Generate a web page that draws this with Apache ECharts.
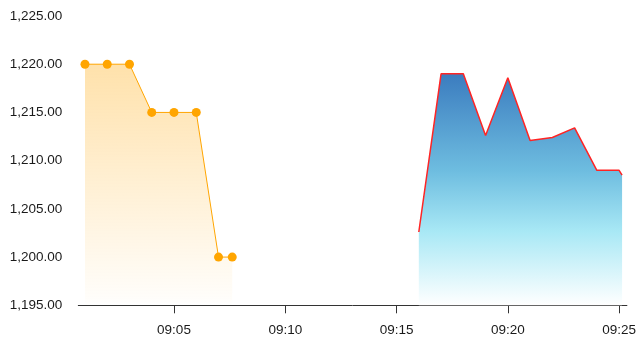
<!DOCTYPE html>
<html>
<head>
<meta charset="utf-8">
<script src="https://cdn.jsdelivr.net/npm/echarts@6/dist/echarts.min.js"></script>
<style>
html,body{margin:0;padding:0;background:#fff;}
#c{width:639px;height:350px;}
</style>
</head>
<body>
<div id="c"></div>
<script>
// ---- data ----
var orangeTimes = ['09:01:00','09:02:00','09:03:00','09:04:00','09:05:00','09:06:00','09:07:00','09:07:37'];
var orangeValues = [1220, 1220, 1220, 1215, 1215, 1215, 1200, 1200];
var blueTimes = ['09:16:00','09:17:00','09:18:00','09:19:00','09:20:00','09:21:00','09:22:00','09:23:00','09:24:00','09:25:00','09:25:08'];
var blueValues = [1202.6, 1219.0, 1219.0, 1212.6, 1218.6, 1212.1, 1212.4, 1213.4, 1209.0, 1209.0, 1208.5];
var xTickLabels = ['09:05','09:10','09:15','09:20','09:25'];
var xRange = ['09:00:42','09:25:21'];
var yMin = 1195, yMax = 1225, yStep = 5;

// minutes since 09:00
function toMin(s){
  var p = s.split(':').map(Number);
  return (p[0]*60 + p[1] + (p[2]||0)/60) - 540;
}
var tickVals = xTickLabels.map(toMin);
function labelFor(v){
  for (var i=0;i<tickVals.length;i++){ if (Math.abs(tickVals[i]-v) < 1e-6) return xTickLabels[i]; }
  return '';
}

var font = 'Liberation Sans, Arial, sans-serif';
var chart = echarts.init(document.getElementById('c'));
chart.setOption({
  animation: false,
  grid: {left: 78.3, right: 9.7, top: 16, bottom: 44.7, containLabel: false},
  xAxis: {
    type: 'value',
    min: toMin(xRange[0]),
    max: toMin(xRange[1]),
    axisLine: {show: true, lineStyle: {color: '#333', width: 1}},
    axisTick: {show: true, length: 8, customValues: tickVals, lineStyle: {color: '#333'}},
    axisLabel: {
      customValues: tickVals,
      margin: 18,
      color: '#1a1a1a',
      fontSize: 13.5,
      fontFamily: font,
      formatter: function(v){ return labelFor(v); }
    },
    splitLine: {show: false}
  },
  yAxis: {
    type: 'value',
    min: yMin, max: yMax, interval: yStep,
    axisLine: {show: false},
    axisTick: {show: false},
    splitLine: {show: false},
    axisLabel: {
      margin: 16,
      padding: [3, 0, 0, 0],
      color: '#1a1a1a',
      fontSize: 13.5,
      fontFamily: font,
      formatter: function(v){
        return v.toLocaleString('en-US',{minimumFractionDigits:2, maximumFractionDigits:2});
      }
    }
  },
  series: [
    {
      type: 'line',
      data: orangeTimes.map(function(t,i){ return [toMin(t), orangeValues[i]]; }),
      symbol: 'circle',
      symbolSize: 9,
      showSymbol: true,
      itemStyle: {color: '#ffa500'},
      lineStyle: {color: '#ffa500', width: 1},
      areaStyle: {
        opacity: 1,
        color: new echarts.graphic.LinearGradient(0,0,0,1,[
          {offset: 0, color: 'rgba(255,165,0,0.33)'},
          {offset: 0.97, color: 'rgba(255,165,0,0.02)'},
          {offset: 1, color: 'rgba(255,165,0,0)'}
        ])
      },
      emphasis: {disabled: true}
    },
    {
      type: 'line',
      data: blueTimes.map(function(t,i){ return [toMin(t), blueValues[i]]; }),
      symbol: 'none',
      showSymbol: false,
      lineStyle: {color: '#ff2424', width: 1.5},
      areaStyle: {
        opacity: 1,
        color: new echarts.graphic.LinearGradient(0,0,0,1,[
          {offset: 0, color: '#3b7cbf'},
          {offset: 0.42, color: '#6ebde0'},
          {offset: 0.68, color: '#a8e8f5'},
          {offset: 1, color: '#ffffff'}
        ])
      },
      emphasis: {disabled: true}
    }
  ]
});
</script>
</body>
</html>
